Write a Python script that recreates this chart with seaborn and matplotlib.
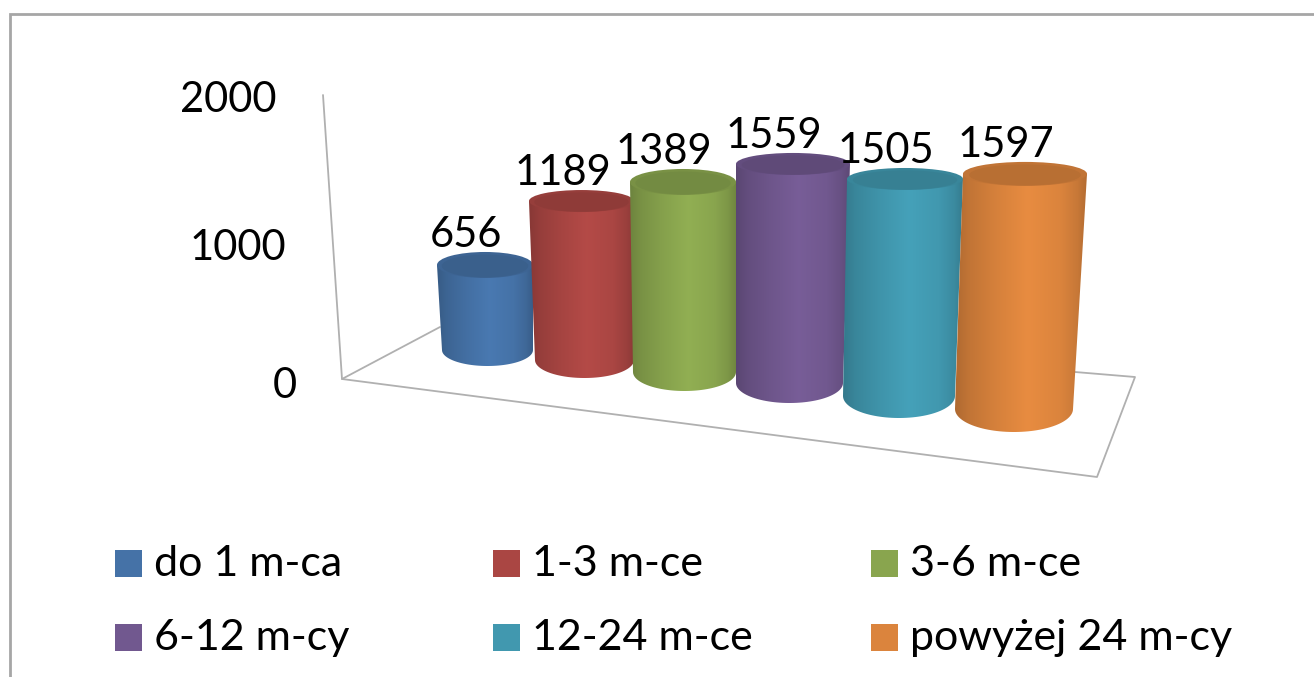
import numpy as np
import pandas as pd
import seaborn as sns
from matplotlib import pyplot as plt
from matplotlib.patches import Ellipse, Polygon, Rectangle
from matplotlib.colors import to_rgb

categories = ['do 1 m-ca', '1-3 m-ce', '3-6 m-ce', '6-12 m-cy', '12-24 m-ce', 'powyżej 24 m-cy']
values = [656, 1189, 1389, 1559, 1505, 1597]
colors = ['#4572a7', '#aa4643', '#89a54e', '#71588f', '#4198af', '#db843d']
axis_labels = ['2000', '1000', '0']

# the picture is a perspective view, so each cylinder has its own place on the floor (pixels)
base_y = [350, 360, 372, 383, 396, 409]
px_per_unit = [0.1296, 0.1337, 0.1368, 0.1405, 0.1442, 0.1472]
top_x = [(437, 533), (529, 634), (630, 736), (736, 850), (847, 963), (963, 1087)]
bottom_x = [(442, 533), (535, 634), (633, 736), (736, 843), (843, 955), (955, 1073)]
top_ry = [13, 11, 13, 11, 11, 12]
bottom_ry = [16, 18, 19, 20, 22, 23]

sns.set_theme(style='white')
plt.rcParams['font.family'] = ['Lato', 'DejaVu Sans']

df = pd.DataFrame({'category': categories, 'value': values})

fig = plt.figure(figsize=(13.14, 6.77), dpi=100)
ax = fig.add_axes([0, 0, 1, 1])
sns.barplot(data=df, x='category', y='value', hue='category', palette=colors, saturation=1,
            order=categories, hue_order=categories, legend=False, linewidth=0, ax=ax)

shade_x = np.array([0, 0.1, 0.3, 0.55, 0.8, 0.93, 1])
shade_f = np.array([0.8, 0.88, 0.97, 1.06, 1.0, 0.91, 0.82])
grad = np.linspace(0, 1, 200)
shade = np.interp(grad, shade_x, shade_f)

for i, bar in enumerate(ax.patches):
    value = bar.get_height()
    rgb = np.array(to_rgb(colors[i]))
    y0 = base_y[i]
    y1 = y0 - value * px_per_unit[i]
    tl, tr = top_x[i]
    bl, br = bottom_x[i]
    z = 3 + i

    # bar from seaborn, moved to its projected place; it sits inside the round body
    bar.set_x(max(tl, bl))
    bar.set_width(min(tr, br) - max(tl, bl))
    bar.set_y(y0)
    bar.set_height(y1 - y0)
    bar.set_linewidth(0)
    bar.set_zorder(z)

    t = np.linspace(0, np.pi, 60)
    bcx, brx = (bl + br) / 2, (br - bl) / 2
    arc = np.column_stack([bcx + brx * np.cos(t), y0 + bottom_ry[i] * np.sin(t)])
    outline = np.vstack([[tl, y1], [tr, y1], arc])
    clip = Polygon(outline, closed=True, transform=ax.transData, fc='none', ec='none')
    ax.add_patch(clip)

    img = np.clip(np.outer(shade, rgb), 0, 1)[np.newaxis, :, :]
    im = ax.imshow(img, extent=(min(tl, bl), max(tr, br), y0 + bottom_ry[i], y1), aspect='auto',
                   zorder=z + 0.1, interpolation='bilinear')
    im.set_clip_path(clip)

    # darker lid
    tcx = (tl + tr) / 2
    ax.add_patch(Ellipse((tcx, y1), tr - tl, top_ry[i] * 2, fc=rgb * 0.88, ec='none', zorder=z + 0.2))
    ax.add_patch(Ellipse((tcx, y1 + 1), (tr - tl) * 0.9, top_ry[i] * 1.75, fc=rgb * 0.84, ec='none', zorder=z + 0.3))

    ax.text(tcx - 19, y1 - top_ry[i] - 17, str(int(value)), ha='center', va='center',
            fontsize=30, color='black', zorder=20)

# walls and floor of the 3D box
box_color = '#b0b0b0'
ax.plot([323, 342, 1097, 1135, 1075], [95, 379, 477, 377, 372], color=box_color, lw=1.3, zorder=1)
ax.plot([342, 440], [379, 327], color=box_color, lw=1.3, zorder=1)

# value axis labels follow the slanted wall
ax.text(276, 100, axis_labels[0], ha='right', va='center', fontsize=30, color='black')
ax.text(286, 248, axis_labels[1], ha='right', va='center', fontsize=30, color='black')
ax.text(297, 386, axis_labels[2], ha='right', va='center', fontsize=30, color='black')

# legend in a 3 by 2 grid
legend_x = [115, 493, 871]
legend_y = [563, 637]
for i, cat in enumerate(categories):
    lx = legend_x[i % 3]
    ly = legend_y[i // 3]
    ax.add_patch(Rectangle((lx, ly - 13.5), 27, 27, fc=colors[i], ec='none', zorder=5))
    ax.text(lx + 39, ly + 1, cat, ha='left', va='center', fontsize=31, color='black')

# chart frame, cut off by the crop on the right and at the bottom
ax.plot([10, 10, 1314], [677, 14, 14], color='#a6a6a6', lw=2, zorder=1, solid_joinstyle='miter')

ax.set_xlim(0, 1314)
ax.set_ylim(677, 0)
ax.set_axis_off()

fig.savefig('out.png', dpi=100)
